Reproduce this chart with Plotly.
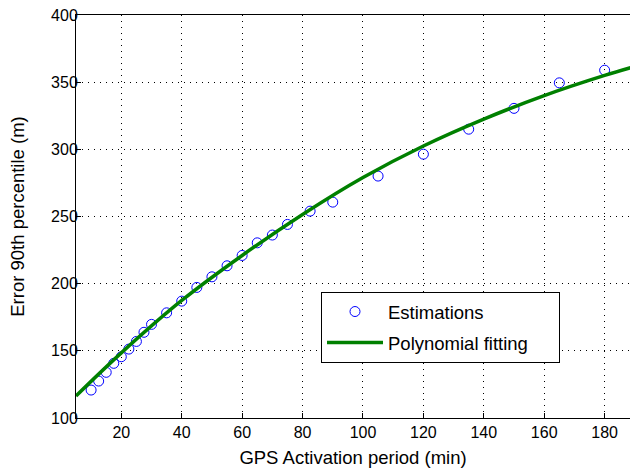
import plotly.graph_objects as go

# Estimations
est_x = [10, 12.5, 15, 17.5, 20, 22.5, 25, 27.5, 30, 35, 40, 45, 50, 55, 60,
         65, 70, 75, 82.5, 90, 105, 120, 135, 150, 165, 180]
est_y = [120.8, 127.5, 134, 140.7, 145.6, 151.3, 157, 163.8, 169.7, 178.3, 187,
         197.2, 205.1, 213.3, 221, 230.4, 236.2, 244.1, 254, 260.7, 280.1,
         296.4, 315, 330.5, 349.5, 358.9]

# Polynomial fitting curve
fit_x = [5, 20, 40, 60, 80, 100, 120, 140, 160, 180, 189]
fit_y = [116.4, 148.5, 187.5, 221, 251.5, 279, 302.5, 322.5, 340, 355, 361]

x_ticks = [20, 40, 60, 80, 100, 120, 140, 160, 180]
y_ticks = [100, 150, 200, 250, 300, 350, 400]

FONT = "Liberation Sans, Arial, sans-serif"

fig = go.Figure()
fig.add_trace(go.Scatter(
    x=est_x, y=est_y, mode="markers", name="Estimations",
    legendgroup="a",
    marker=dict(symbol="circle-open", size=10, color="#0000ff",
                line=dict(width=1, color="#0000ff")),
))
fig.add_trace(go.Scatter(
    x=fit_x, y=fit_y, mode="lines", name="Polynomial fitting\u00a0\u00a0\u00a0\u00a0\u00a0",
    legendgroup="b",
    line=dict(color="#008000", width=3.5, shape="spline", smoothing=1.0),
))

axis_common = dict(
    showgrid=True, gridcolor="black", griddash="1px,5px", gridwidth=1,
    showline=True, linecolor="black", linewidth=1,
    ticks="inside", ticklen=5, tickcolor="black", automargin=False,
    zeroline=False, tickfont=dict(family=FONT, size=16, color="black"),
)

fig.update_layout(
    width=630, height=475,
    margin=dict(l=76, r=0, t=15, b=57),
    paper_bgcolor="white", plot_bgcolor="white",
    font=dict(family=FONT, size=16, color="black"),
    xaxis=dict(range=[5, 188.4], tickvals=x_ticks, mirror=True,
               title=dict(text="GPS Activation period (min)",
                          font=dict(family=FONT, size=18.5), standoff=10),
               **axis_common),
    yaxis=dict(range=[100, 400], tickvals=y_ticks, mirror=False,
               ticklabelstandoff=-6,
               title=dict(text="Error 90th percentile (m)",
                          font=dict(family=FONT, size=18.5), standoff=21),
               **axis_common),
    legend=dict(
        x=(321 - 76) / 554, y=(418 - 292) / 403, xanchor="left", yanchor="top",
        bgcolor="white", bordercolor="black", borderwidth=1,
        font=dict(family=FONT, size=18.5, color="black"),
        itemwidth=56, traceorder="grouped", tracegroupgap=4,
    ),
    showlegend=True,
)

fig.write_html("out.html",
               config={"displayModeBar": False},
               post_script="document.body.style.margin='0';document.body.style.overflow='hidden';")
